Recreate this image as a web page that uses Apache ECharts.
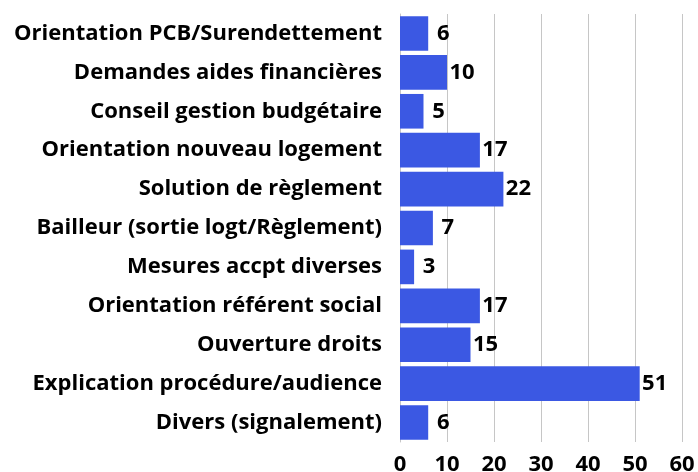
<!DOCTYPE html>
<html>
<head>
<meta charset="utf-8">
<script src="https://cdn.jsdelivr.net/npm/echarts@6/dist/echarts.min.js"></script>
<style>
  html, body { margin: 0; padding: 0; background: #ffffff; }
  #chart { width: 698px; height: 472px; }
</style>
</head>
<body>
<div id="chart"></div>
<script>
// Motifs d'accompagnement, du haut vers le bas
const categories = [
  'Orientation PCB/Surendettement',
  'Demandes aides financières',
  'Conseil gestion budgétaire',
  'Orientation nouveau logement',
  'Solution de règlement',
  'Bailleur (sortie logt/Règlement)',
  'Mesures accpt diverses',
  'Orientation référent social',
  'Ouverture droits',
  'Explication procédure/audience',
  'Divers (signalement)'
];
const values = [6, 10, 5, 17, 22, 7, 3, 17, 15, 51, 6];
const xTicks = [0, 10, 20, 30, 40, 50, 60];

const FONT = '"Open Sans"';
const chart = echarts.init(document.getElementById('chart'), null, { renderer: 'canvas' });

chart.setOption({
  animation: false,
  backgroundColor: '#ffffff',
  grid: { left: 400, right: 16, top: 14, bottom: 30, outerBoundsMode: 'none', containLabel: false },
  xAxis: {
    type: 'value',
    min: xTicks[0],
    max: xTicks[xTicks.length - 1],
    interval: xTicks[1] - xTicks[0],
    axisLine: { show: false },
    axisTick: { show: false },
    splitLine: { show: true, lineStyle: { color: '#c6c6c6', width: 1 } },
    axisLabel: {
      color: '#000000',
      fontFamily: FONT,
      fontWeight: 'bold',
      fontSize: 22,
      margin: 12
    }
  },
  yAxis: {
    type: 'category',
    data: categories,
    inverse: true,
    axisLine: { show: true, lineStyle: { color: '#c6c6c6', width: 1 } },
    axisTick: { show: false },
    axisLabel: {
      color: '#000000',
      fontFamily: FONT,
      fontWeight: 'bold',
      fontSize: 22,
      margin: 18
    }
  },
  series: [{
    type: 'bar',
    data: values,
    barCategoryGap: '11%',
    itemStyle: { color: '#3b58e3' },
    label: {
      show: true,
      position: 'right',
      distance: 15,
      align: 'center',
      color: '#000000',
      fontFamily: FONT,
      fontWeight: 'bold',
      fontSize: 22
    }
  }]
});
</script>
</body>
</html>
